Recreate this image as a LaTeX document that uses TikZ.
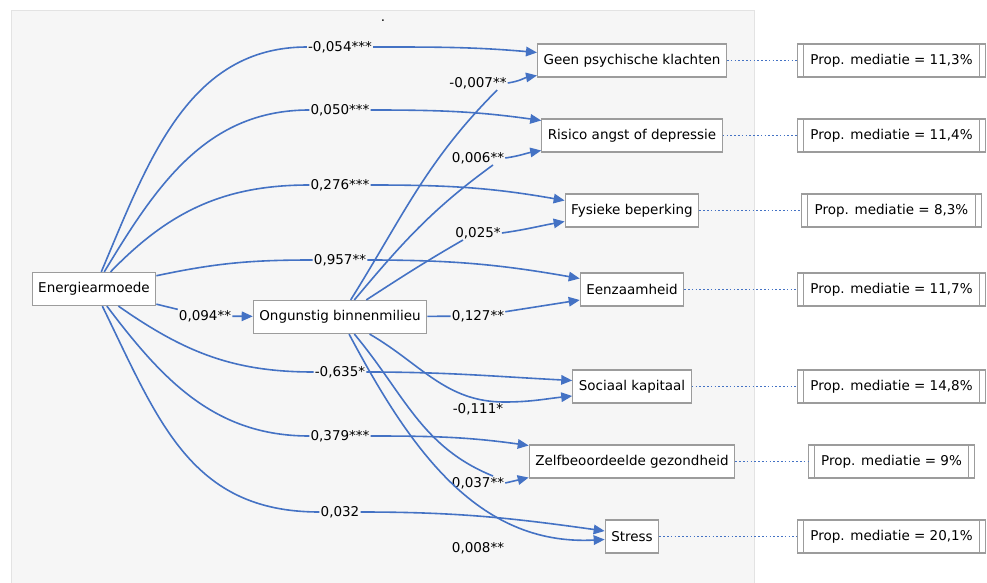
\documentclass[tikz,border=0pt]{standalone}
\usepackage{fontspec}
\setmainfont{DejaVu Sans}
\usetikzlibrary{arrows.meta}

\definecolor{pathblue}{HTML}{4472C4}
\definecolor{boxgray}{HTML}{9C9C9C}
\definecolor{panel}{HTML}{F6F6F6}
\definecolor{panelline}{HTML}{E3E3E3}

\begin{document}
\begin{tikzpicture}[x=1pt, y=-1pt, >={Triangle[length=11pt,width=9.5pt]},
	font=\fontsize{13.5}{16}\selectfont]
	
	\tikzstyle{box}=[rectangle, draw=boxgray, line width=1.2pt, fill=white,
	minimum height=33pt, inner xsep=6pt]
	\tikzstyle{propbox}=[box, inner xsep=13pt, path picture={
		\draw[boxgray, line width=1.2pt]
		([xshift=6pt]path picture bounding box.north west) -- ([xshift=6pt]path picture bounding box.south west)
		([xshift=-6pt]path picture bounding box.north east) -- ([xshift=-6pt]path picture bounding box.south east);}]
	\tikzstyle{coef}=[fill=panel, inner sep=1pt]
	\tikzstyle{effect}=[->, pathblue, line width=1.6pt]
	\tikzstyle{link}=[pathblue, line width=1.8pt, dash pattern=on 1.6pt off 2.2pt]
	
	% Canvas and panel
	\useasboundingbox (0,0) rectangle (987,583);
	\fill[panel] (11,10) rectangle (754,583);
	\draw[panelline] (11,583) -- (11,10) -- (754,10) -- (754,583);
	\node (dot) at (383,21) {.};
	
	% Exposure and mediator
	\node[box] (ea) at (94,289) {Energiearmoede};
	\node[box] (ob) at (340,317) {Ongunstig binnenmilieu};
	
	% Outcomes
	\node[box] (gpk) at (632,60.5) {Geen psychische klachten};
	\node[box] (rad) at (632,135.5) {Risico angst of depressie};
	\node[box] (fb) at (632,210.5) {Fysieke beperking};
	\node[box] (eh) at (632,289.5) {Eenzaamheid};
	\node[box] (sk) at (632,386.5) {Sociaal kapitaal};
	\node[box] (zg) at (632,461.5) {Zelfbeoordeelde gezondheid};
	\node[box] (st) at (632,536.5) {Stress};
	
	% Proportion mediated
	\node[propbox] (pgpk) at (891.5,60.5) {Prop. mediatie = 11,3\%};
	\node[propbox] (prad) at (891.5,135.5) {Prop. mediatie = 11,4\%};
	\node[propbox] (pfb) at (891.5,210.5) {Prop. mediatie = 8,3\%};
	\node[propbox] (peh) at (891.5,289.5) {Prop. mediatie = 11,7\%};
	\node[propbox] (psk) at (891.5,386.5) {Prop. mediatie = 14,8\%};
	\node[propbox] (pzg) at (891.5,461.5) {Prop. mediatie = 9\%};
	\node[propbox] (pst) at (891.5,536.5) {Prop. mediatie = 20,1\%};
	
	% Direct coefficients
	\node[coef] (c1) at (340,47) {-0,054***};
	\node[coef] (c2) at (340,110) {0,050***};
	\node[coef] (c3) at (340,185) {0,276***};
	\node[coef] (c4) at (340,260) {0,957**};
	\node[coef] (c5) at (205,316) {0,094**};
	\node[coef] (c6) at (340,372) {-0,635*};
	\node[coef] (c7) at (340,436) {0,379***};
	\node[coef] (c8) at (340,512) {0,032};
	
	% Coefficients via the mediator
	\node[coef] (m1) at (478,83) {-0,007**};
	\node[coef] (m2) at (478,158) {0,006**};
	\node[coef] (m3) at (478,233) {0,025*};
	\node[coef] (m4) at (478,316) {0,127**};
	\node[coef] (m5) at (478,409) {-0,111*};
	\node[coef] (m6) at (478,483) {0,037**};
	\node[coef] (m7) at (478,548) {0,008**};
	
	% Direct effects
	\draw[effect] (ea) to[out=67,in=180] (c1) to[out=0,in=175] ([yshift=8pt]gpk.west);
	\draw[effect] (ea) to[out=59,in=180] (c2) to[out=0,in=172] ([yshift=15pt]rad.west);
	\draw[effect] (ea) to[out=46,in=180] (c3) to[out=0,in=170] ([yshift=10pt]fb.west);
	\draw[effect] (ea) to[out=12,in=180] (c4) to[out=0,in=170] ([yshift=11pt]eh.west);
	\draw[effect] (ea) -- (c5) -- (ob);
	\draw[effect] (ea) to[out=-35,in=180] (c6) to[out=0,in=177] ([yshift=6pt]sk.west);
	\draw[effect] (ea) to[out=-53,in=180] (c7) to[out=0,in=172] ([yshift=16pt]zg.west);
	\draw[effect] (ea) to[out=-64,in=180,looseness=1.1] (c8) to[out=0,in=172] ([yshift=5.5pt]st.west);
	
	% Effects via the mediator
	\draw[effect] (ob) to[out=58,in=225] (m1.-20) (m1.east) to[out=8,in=190] ([yshift=-15pt]gpk.west);
	\draw[effect] (ob) to[out=50,in=216] (m2.-25) (m2.east) to[out=8,in=190] ([yshift=-15pt]rad.west);
	\draw[effect] (ob) to[out=33,in=210] (m3.205) (m3.east) to[out=8,in=190] ([yshift=-11pt]fb.west);
	\draw[effect] (ob) -- (m4) -- ([yshift=-10.5pt]eh.west);
	\draw[effect] (ob) to[out=-30,in=180] (m5.north east) to[out=0,in=186] ([yshift=-9.5pt]sk.west);
	\draw[effect] (ob) to[out=-50,in=158] (m6.25) (m6.east) -- ([yshift=-16pt]zg.west);
	\draw[effect] (ob) to[out=-62,in=183] ([yshift=-3pt]st.west);
	
	% Mediation links
	\draw[link] (gpk) -- (pgpk);
	\draw[link] (rad) -- (prad);
	\draw[link] (fb) -- (pfb);
	\draw[link] (eh) -- (peh);
	\draw[link] (sk) -- (psk);
	\draw[link] (zg) -- (pzg);
	\draw[link] (st) -- (pst);
	
\end{tikzpicture}
\end{document}
